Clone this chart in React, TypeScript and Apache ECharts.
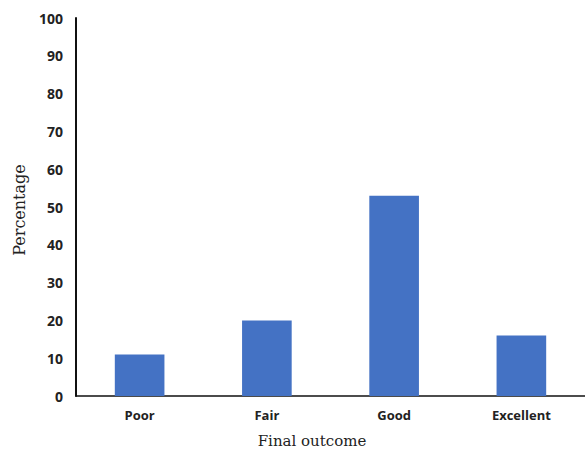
import React, { useEffect, useRef } from "react";
import * as echarts from "echarts";

const categories = ["Poor", "Fair", "Good", "Excellent"];
const percentages = [11, 20, 53, 16];
const yMin = 0;
const yMax = 100;
const yStep = 10;
const xTitle = "Final outcome";
const yTitle = "Percentage";

export default function App() {
  const ref = useRef<HTMLDivElement>(null);

  useEffect(() => {
    if (!ref.current) return;
    const chart = echarts.init(ref.current, null, { renderer: "svg" });
    chart.setOption({
      animation: false,
      backgroundColor: "#ffffff",
      grid: { left: 76, top: 18, width: 512, height: 378, containLabel: false },
      graphic: [
        {
          type: "text",
          x: 312,
          y: 441,
          style: {
            text: xTitle,
            fontFamily: "DejaVu Serif",
            fontSize: 15,
            fill: "#222",
            align: "center",
            verticalAlign: "middle",
          },
        },
        {
          type: "text",
          x: 19,
          y: 210,
          rotation: Math.PI / 2,
          style: {
            text: yTitle,
            fontFamily: "DejaVu Serif",
            fontSize: 16,
            fill: "#222",
            align: "center",
            verticalAlign: "middle",
          },
        },
      ],
      xAxis: {
        type: "category",
        data: categories,
        axisLine: { lineStyle: { color: "#111", width: 1.5 } },
        axisTick: { show: false },
        axisLabel: {
          fontFamily: "Open Sans",
          fontWeight: "bold",
          fontSize: 13,
          color: "#222",
          margin: 12,
        },
      },
      yAxis: {
        type: "value",
        min: yMin,
        max: yMax,
        interval: yStep,
        axisLine: { show: true, lineStyle: { color: "#111", width: 2 } },
        axisTick: { show: false },
        splitLine: { show: false },
        axisLabel: {
          fontFamily: "Open Sans",
          fontWeight: "bold",
          fontSize: 14,
          color: "#222",
          margin: 13,
        },
      },
      series: [
        {
          type: "bar",
          data: percentages,
          barWidth: "39%",
          itemStyle: { color: "#4472C4" },
        },
      ],
    });
    return () => chart.dispose();
  }, []);

  return (
    <div
      ref={ref}
      style={{ position: "fixed", left: 0, top: 0, width: 585, height: 450 }}
    />
  );
}
